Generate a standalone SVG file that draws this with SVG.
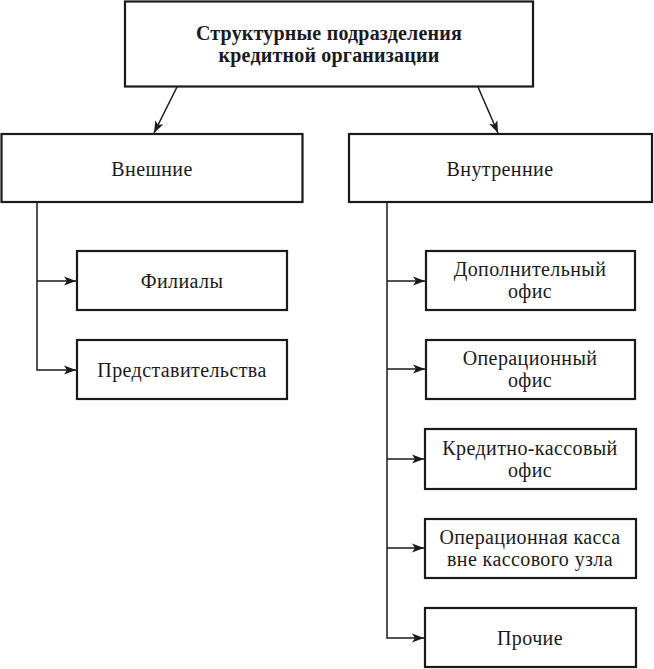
<svg xmlns="http://www.w3.org/2000/svg" width="654" height="669" viewBox="0 0 654 669">
<style>
.box{fill:#fff;stroke:#1a1a1a;stroke-width:2.2}
.t{font-family:"Liberation Serif","DejaVu Serif",serif;font-size:20px;letter-spacing:0.4px;fill:#1a1a1a;text-anchor:middle}
.b{font-weight:bold;letter-spacing:0.2px}
.c{fill:none;stroke:#1a1a1a;stroke-width:1.5}
</style>
<defs>
<marker id="ar" viewBox="0 0 12 10" refX="12" refY="5" markerWidth="13" markerHeight="10" markerUnits="userSpaceOnUse" orient="auto">
<path d="M0,0.5 L12,5 L0,9.5 L3,5 Z" fill="#1a1a1a"/>
</marker>
</defs>
<rect width="654" height="669" fill="#fff"/>
<g id="connectors">
<line class="c" x1="177" y1="87" x2="154" y2="133" marker-end="url(#ar)"/>
<line class="c" x1="478" y1="87" x2="498" y2="133" marker-end="url(#ar)"/>
<polyline class="c" points="37,202 37,370 76,370" marker-end="url(#ar)"/>
<line class="c" x1="37" y1="281" x2="76" y2="281" marker-end="url(#ar)"/>
<polyline class="c" points="387,202 387,638 424,638" marker-end="url(#ar)"/>
<line class="c" x1="387" y1="281" x2="425" y2="281" marker-end="url(#ar)"/>
<line class="c" x1="387" y1="369" x2="425" y2="369" marker-end="url(#ar)"/>
<line class="c" x1="387" y1="459" x2="424" y2="459" marker-end="url(#ar)"/>
<line class="c" x1="387" y1="548" x2="424" y2="548" marker-end="url(#ar)"/>
</g>
<g id="root">
<rect class="box" x="125" y="1.5" width="408" height="85"/>
<text class="t b" x="329" y="40">Структурные подразделения</text>
<text class="t b" x="329" y="62">кредитной организации</text>
</g>
<g id="external">
<rect class="box" x="1.5" y="134" width="301" height="68"/>
<text class="t" x="152" y="176">Внешние</text>
</g>
<g id="internal">
<rect class="box" x="349" y="134" width="303" height="68"/>
<text class="t" x="500" y="176">Внутренние</text>
</g>
<g id="filialy">
<rect class="box" x="77" y="251" width="210" height="59"/>
<text class="t" x="182" y="288">Филиалы</text>
</g>
<g id="predst">
<rect class="box" x="77" y="340" width="210" height="59"/>
<text class="t" x="182" y="377">Представительства</text>
</g>
<g id="dop">
<rect class="box" x="426" y="251" width="209" height="59"/>
<text class="t" x="530" y="276">Дополнительный</text>
<text class="t" x="530" y="298">офис</text>
</g>
<g id="oper">
<rect class="box" x="426" y="340" width="209" height="59"/>
<text class="t" x="530" y="365">Операционный</text>
<text class="t" x="530" y="387">офис</text>
</g>
<g id="kred">
<rect class="box" x="425" y="429" width="211" height="60"/>
<text class="t" x="530" y="455">Кредитно-кассовый</text>
<text class="t" x="530" y="477">офис</text>
</g>
<g id="kassa">
<rect class="box" x="425" y="519" width="211" height="59"/>
<text class="t" x="530" y="544">Операционная касса</text>
<text class="t" x="530" y="566">вне кассового узла</text>
</g>
<g id="prochie">
<rect class="box" x="425" y="608" width="211" height="59"/>
<text class="t" x="530" y="645">Прочие</text>
</g>
</svg>
